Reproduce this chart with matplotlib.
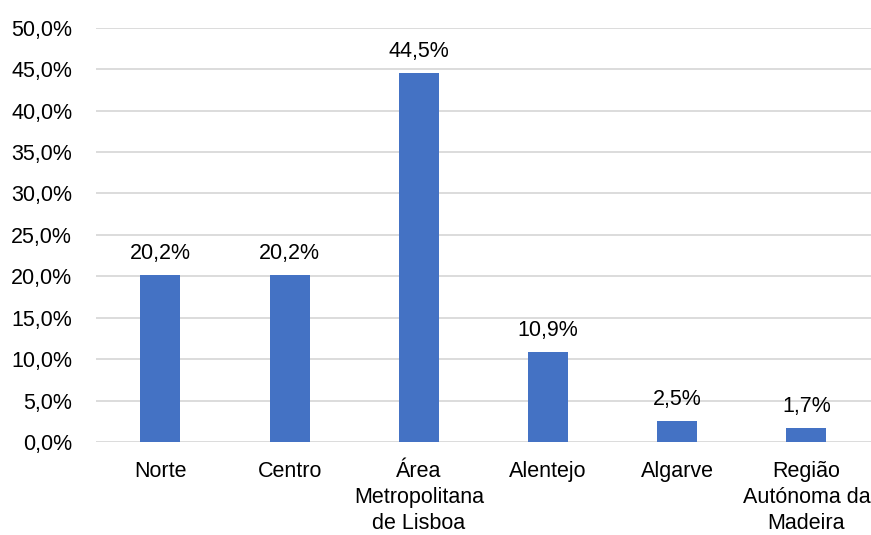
import matplotlib
matplotlib.use("Agg")
import matplotlib.pyplot as plt
from matplotlib.ticker import FuncFormatter, MultipleLocator

plt.rcParams["font.family"] = ["Liberation Sans", "DejaVu Sans"]

regions = ["Norte", "Centro", "Área\nMetropolitana\nde Lisboa", "Alentejo", "Algarve",
           "Região\nAutónoma da\nMadeira"]
shares = [20.2, 20.2, 44.5, 10.9, 2.5, 1.7]

fig = plt.figure(figsize=(8.71, 5.35), dpi=100)
ax = fig.add_axes([0.110, 0.174, 0.890, 0.774])

x = range(len(regions))
ax.bar(x, shares, width=0.31, color="#4472C4", zorder=3)

fs = 15.5
for xi, v in zip(x, shares):
    ax.annotate(f"{v:.1f}%".replace(".", ","), (xi, v), xytext=(0, 8),
                textcoords="offset points", ha="center", va="bottom", fontsize=fs,
                color="#000000")

ax.set_xlim(-0.5, len(regions) - 0.5)
ax.set_ylim(0, 50)
ax.yaxis.set_major_locator(MultipleLocator(5))
ax.yaxis.set_major_formatter(FuncFormatter(lambda v, p: f"{v:.1f}%".replace(".", ",")))
ax.set_xticks(list(x))
ax.set_xticklabels(regions, fontsize=fs, linespacing=1.3, va="top")
ax.tick_params(axis="y", labelsize=fs, length=0, pad=17)
ax.tick_params(axis="x", length=0, pad=14)

ax.grid(axis="y", color="#d9d9d9", linewidth=1.3, zorder=0)
for s in ax.spines.values():
    s.set_visible(False)

fig.savefig("out.png", dpi=100)
